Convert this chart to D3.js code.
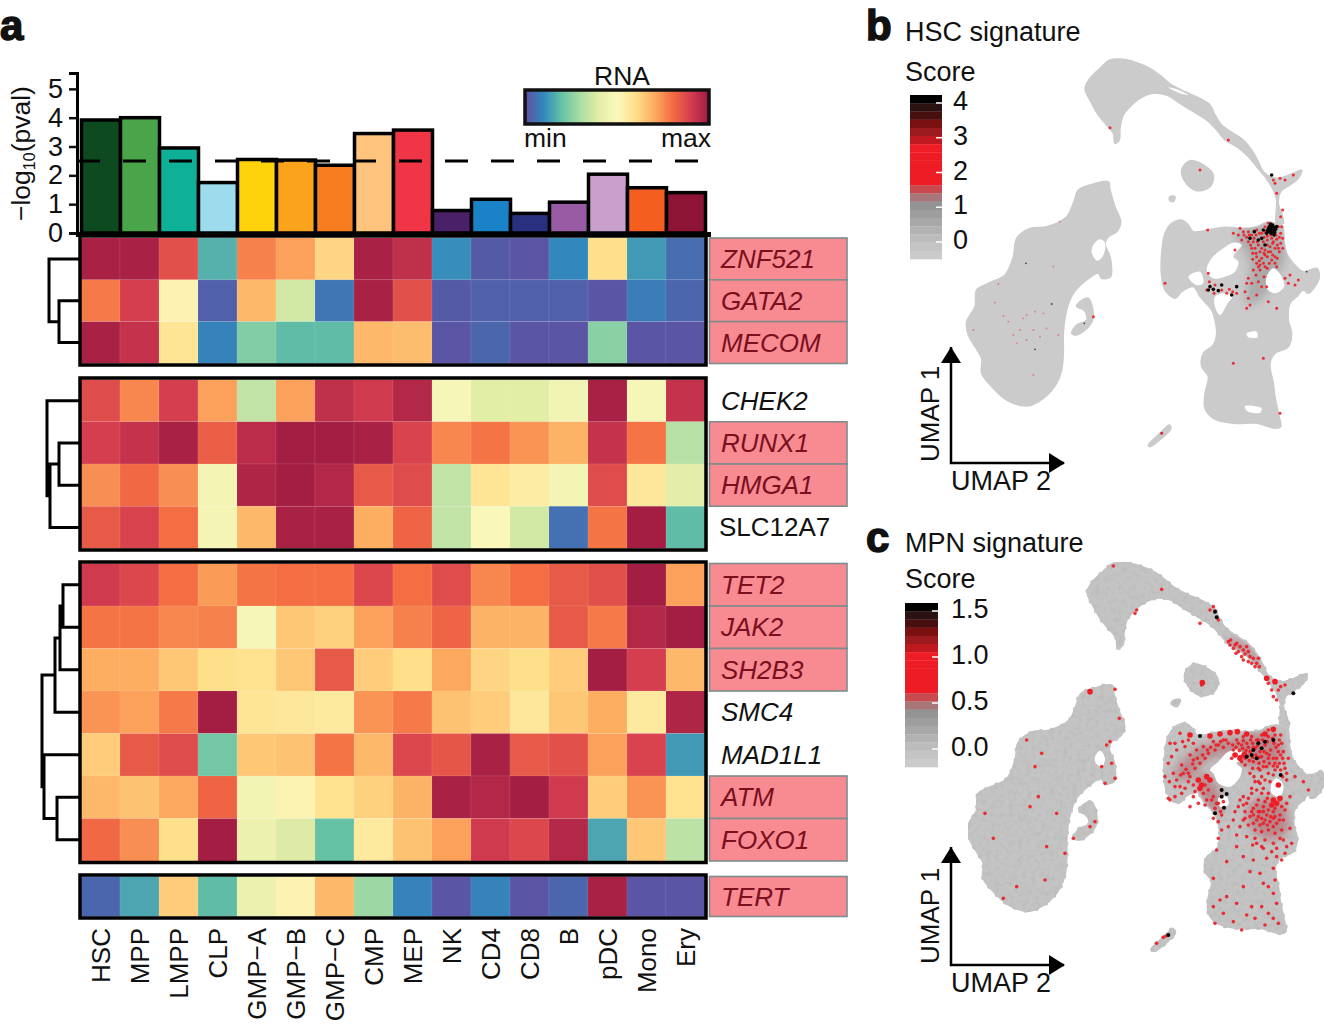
<!DOCTYPE html>
<html>
<head>
<meta charset="utf-8">
<script src="https://cdn.jsdelivr.net/npm/d3@7"></script>
<style>
  body { margin: 0; background: #fff; }
  text { font-family: "Liberation Sans", Arial, sans-serif; fill: #111; }
</style>
</head>
<body>
<svg id="fig" width="1324" height="1024"></svg>
<script>
// cell types, bar values and bar colours
const cellTypes = ['HSC', 'MPP', 'LMPP', 'CLP', 'GMP−A', 'GMP−B', 'GMP−C', 'CMP', 'MEP', 'NK', 'CD4', 'CD8', 'B', 'pDC', 'Mono', 'Ery']
const pvals = [3.92, 4.0, 2.95, 1.75, 2.55, 2.53, 2.35, 3.45, 3.57, 0.78, 1.17, 0.68, 1.07, 2.04, 1.57, 1.4]
const barColors = ['#0d4a20', '#4aa54a', '#0fb098', '#9cdcec', '#ffd30a', '#fca31c', '#f77c20', '#fec37c', '#f03546', '#4a2068', '#1a83c8', '#28307f', '#9a5ba5', '#c9a0cc', '#f45f20', '#8d1434']
const threshold = 2.5

// RNA colour stops, min to max
const rnaStops = ['#5e4fa2', '#3288bd', '#66c2a5', '#abdda4', '#e2eda6', '#fbf8bc', '#fee08b', '#fdae61', '#f46d43', '#d53e4f', '#9e1a42']

// RNA values, 0 = min, 1 = max
const groupA = ['ZNF521', 'GATA2', 'MECOM']
const groupB = ['CHEK2', 'RUNX1', 'HMGA1', 'SLC12A7']
const groupC = ['TET2', 'JAK2', 'SH2B3', 'SMC4', 'MAD1L1', 'ATM', 'FOXO1']
const groupD = ['TERT']
const ZNF521 = [.98, .98, .86, .17, .77, .72, .62, .98, .94, .11, .02, .01, .10, .60, .13, .05]
const GATA2 = [.78, .90, .52, .03, .68, .37, .07, .98, .86, .02, .03, .03, .03, .01, .08, .04]
const MECOM = [.98, .93, .58, .09, .24, .19, .19, .68, .67, .01, .04, .01, .01, .25, .01, .01]
const CHEK2 = [.87, .76, .90, .72, .34, .72, .94, .91, .96, .48, .40, .40, .46, .98, .48, .93]
const RUNX1 = [.90, .93, .98, .83, .95, .99, .99, .98, .89, .76, .79, .74, .69, .93, .79, .32]
const HMGA1 = [.75, .81, .75, .47, .97, .99, .96, .84, .87, .34, .58, .55, .47, .87, .57, .41]
const SLC12A7 = [.84, .89, .80, .47, .68, .98, .98, .70, .82, .34, .49, .37, .06, .79, .99, .19]
const TET2 = [.91, .88, .80, .73, .79, .80, .80, .88, .80, .87, .76, .80, .84, .86, .99, .72]
const JAK2 = [.79, .79, .76, .77, .48, .65, .63, .72, .77, .82, .69, .69, .84, .78, .96, .99]
const SH2B3 = [.70, .70, .65, .60, .59, .65, .84, .64, .60, .71, .62, .60, .64, .99, .90, .68]
const SMC4 = [.74, .72, .78, .99, .58, .57, .56, .74, .78, .66, .64, .57, .65, .70, .56, .97]
const MAD1L1 = [.64, .84, .87, .22, .65, .66, .79, .68, .88, .85, .98, .84, .86, .72, .89, .13]
const ATM = [.68, .66, .71, .82, .46, .52, .59, .63, .69, .98, .96, .99, .91, .64, .74, .59]
const FOXO1 = [.81, .75, .60, .99, .44, .39, .20, .56, .66, .72, .91, .88, .96, .15, .65, .33]
const TERT = [.04, .15, .64, .19, .44, .52, .68, .28, .09, .01, .09, .01, .04, .98, .01, .01]
const rna = { ZNF521, GATA2, MECOM, CHEK2, RUNX1, HMGA1, SLC12A7, TET2, JAK2, SH2B3, SMC4, MAD1L1, ATM, FOXO1, TERT }
const pinkGenes = ['ZNF521', 'GATA2', 'MECOM', 'RUNX1', 'HMGA1', 'TET2', 'JAK2', 'SH2B3', 'ATM', 'FOXO1', 'TERT']

// dendrograms: leaf or [left, right, merge height]
const treeA = ['ZNF521', ['GATA2', 'MECOM', 21], 31]
const treeB = ['CHEK2', [['RUNX1', 'HMGA1', 21], 'SLC12A7', 30], 33]
const treeC = [[[['TET2', 'JAK2', 17], 'SH2B3', 20], 'SMC4', 25], ['MAD1L1', ['ATM', 'FOXO1', 23], 36], 38]

// score legend steps, top to bottom
const scoreSteps = ['#000000', '#2a1212', '#470f0f', '#7a1111', '#9a1a1e', '#c0181f', '#ee1c25', '#ee1c25', '#ee1c25', '#ee1c25', '#ee1c25', '#c84a4e', '#a87678', '#939393', '#9e9e9e', '#a8a8a8', '#b2b2b2', '#bcbcbc', '#c4c4c4', '#cbcbcb']
const hscTicks = [0, 1, 2, 3, 4]
const mpnTicks = [0, 0.5, 1, 1.5]

// UMAP outlines in UMAP units
const umapOutlines = [
  [[675, 265], [690, 235], [720, 205], [750, 180], [790, 178], [830, 188], [870, 205], [905, 230], [935, 255], [975, 275], [1020, 295], [1050, 315], [1065, 345], [1085, 375], [1120, 400], [1150, 420], [1175, 450], [1195, 485], [1210, 515], [1250, 535], [1300, 520], [1325, 510], [1315, 535], [1290, 555], [1262, 575], [1255, 610], [1265, 640], [1270, 670], [1250, 672], [1250, 600], [1240, 570], [1215, 530], [1190, 500], [1165, 470], [1130, 440], [1095, 420], [1070, 390], [1040, 360], [1000, 335], [960, 310], [920, 285], [880, 280], [840, 295], [810, 320], [790, 345], [780, 385], [778, 420], [765, 430], [760, 400], [740, 375], [715, 345], [695, 310]],
  [[905, 760], [915, 700], [935, 670], [965, 660], [985, 675], [1000, 695], [1050, 688], [1100, 682], [1140, 685], [1190, 680], [1225, 665], [1250, 672], [1268, 680], [1272, 720], [1280, 760], [1300, 790], [1330, 815], [1370, 805], [1378, 830], [1365, 860], [1345, 880], [1330, 870], [1310, 890], [1290, 910], [1285, 960], [1295, 1000], [1285, 1040], [1245, 1060], [1230, 1090], [1240, 1150], [1245, 1190], [1255, 1240], [1262, 1280], [1245, 1285], [1190, 1270], [1120, 1270], [1060, 1255], [1035, 1225], [1035, 1180], [1045, 1130], [1025, 1100], [1030, 1060], [1060, 1035], [1070, 1000], [1065, 960], [1055, 930], [1020, 890], [1000, 860], [965, 875], [945, 895], [915, 870], [905, 830]],
  [[655, 570], [690, 555], [745, 545], [750, 570], [765, 620], [782, 665], [770, 695], [745, 710], [735, 730], [750, 770], [755, 810], [752, 830], [725, 835], [715, 820], [680, 840], [640, 880], [620, 930], [610, 1000], [610, 1060], [605, 1110], [590, 1150], [550, 1195], [500, 1218], [440, 1200], [395, 1160], [365, 1120], [365, 1075], [345, 1040], [325, 1005], [320, 965], [345, 920], [350, 870], [385, 850], [435, 825], [460, 770], [470, 715], [510, 685], [560, 680], [620, 650], [640, 610]],
  [[635, 1000], [650, 975], [680, 960], [672, 930], [650, 920], [660, 905], [685, 895], [700, 950], [690, 975], [650, 1005]],
  [[965, 510], [990, 482], [1030, 495], [1060, 525], [1050, 560], [1010, 572], [975, 545]],
  [[930, 590], [945, 590], [940, 605], [928, 600]],
  [[865, 1335], [900, 1300], [928, 1275], [933, 1285], [905, 1315], [870, 1340]]
]
const hscHoles = [
  [[1040, 810], [1055, 775], [1090, 745], [1120, 728], [1145, 735], [1120, 770], [1135, 785], [1125, 815], [1095, 830], [1060, 835]],
  [[1065, 890], [1090, 880], [1118, 885], [1100, 915], [1080, 945], [1065, 920]],
  [[1220, 830], [1240, 805], [1262, 825], [1272, 860], [1245, 880], [1222, 868]],
  [[985, 830], [1020, 815], [1030, 850], [1010, 855]],
  [[700, 735], [720, 718], [735, 728], [730, 765], [712, 782], [695, 758]],
  [[1160, 1000], [1190, 995], [1192, 1012], [1165, 1012]],
  [[1155, 1218], [1205, 1225], [1200, 1238], [1160, 1232]],
  [[925, 262], [950, 268], [985, 285], [960, 280]]
]
const mpnHoles = [
  [[1075, 755], [1105, 725], [1140, 720], [1150, 745], [1130, 760], [1145, 775], [1140, 800], [1110, 830], [1075, 820], [1060, 790], [1050, 780]],
  [[1235, 820], [1250, 805], [1270, 825], [1260, 860], [1235, 850]],
  [[1075, 865], [1100, 860], [1105, 885], [1080, 890]],
  [[705, 740], [720, 722], [735, 745], [725, 770], [708, 760]]
]
const hscHaze = [[[1130, 700], [1250, 690], [1275, 760], [1250, 830], [1200, 900], [1160, 910], [1170, 790]]]
const mpnHaze = [
  [[1120, 700], [1240, 670], [1270, 730], [1240, 770], [1150, 760]],
  [[940, 800], [990, 730], [1060, 695], [1130, 690], [1120, 725], [1050, 745], [980, 810]],
  [[1170, 880], [1260, 870], [1285, 960], [1230, 990], [1170, 950]],
  [[1100, 385], [1160, 410], [1200, 465], [1150, 445]],
  [[1010, 800], [1050, 800], [1090, 900], [1060, 910]]
]

// cells with a high score
const hscBlack = [[1232, 672], [1238, 675], [1228, 680], [1235, 682], [1242, 682], [1225, 686], [1232, 688], [1240, 690], [1247, 688], [1236, 695], [1244, 697], [1228, 695], [1250, 680], [1234, 700], [1242, 705], [1222, 692], [1235, 525], [1183, 695], [1170, 715], [1195, 720], [1205, 715], [1215, 735], [1050, 860], [1060, 868], [1085, 855], [1130, 860], [1045, 870], [1075, 872], [1115, 885], [1220, 700], [1210, 690]]
const hscDark = [[525, 1048], [575, 912], [673, 970], [905, 1298], [1340, 815], [498, 790], [1250, 925]]
const hscRed = [[750, 383], [1240, 540], [1260, 535], [1245, 550], [1275, 540], [1300, 525], [1250, 580], [1268, 630], [1262, 650], [1265, 680], [1043, 690], [1140, 685], [1150, 695], [1165, 695], [1175, 705], [1190, 690], [1205, 700], [1215, 680], [1225, 670], [1255, 680], [1262, 700], [1268, 715], [1160, 712], [1180, 725], [1195, 735], [1210, 725], [1222, 720], [1235, 715], [1250, 718], [1262, 730], [1145, 720], [1125, 750], [1185, 745], [1200, 755], [1215, 750], [1230, 740], [1245, 745], [1258, 755], [1190, 770], [1205, 775], [1222, 770], [1238, 765], [1252, 775], [1190, 790], [1210, 790], [1228, 790], [1245, 790], [1180, 810], [1200, 810], [1222, 805], [1165, 835], [1160, 850], [1205, 860], [1220, 860], [1290, 825], [1305, 855], [1285, 850], [1045, 820], [1048, 845], [1065, 855], [1085, 870], [1100, 880], [1118, 875], [1062, 880], [1165, 895], [1170, 915], [1250, 925], [1260, 1240], [905, 1300], [700, 950], [1020, 510], [1120, 1090], [1210, 1075], [915, 850], [1105, 420], [1172, 735], [1188, 705], [1212, 712], [1238, 730], [1252, 735], [1198, 782], [1215, 765], [1232, 755], [1178, 760], [1195, 800], [1152, 705], [1168, 705], [1182, 715], [1198, 700], [1215, 695], [1222, 708], [1232, 705], [1248, 705], [1258, 712], [1165, 725], [1175, 745], [1192, 725], [1205, 745], [1222, 735], [1240, 725], [1255, 745], [1268, 745], [1178, 778], [1188, 760], [1212, 760], [1225, 755], [1245, 770], [1200, 795], [1215, 800], [1235, 780], [1188, 825], [1175, 850], [1212, 830], [1195, 845], [1155, 875], [1190, 885], [1275, 835], [1315, 840], [1250, 800], [1160, 925], [1225, 905], [1040, 870], [1108, 868], [1130, 880], [1120, 700], [1135, 705]]
const hscFaint = [[430, 948], [490, 955], [525, 935], [550, 940], [480, 990], [520, 990], [560, 985], [470, 1030], [500, 1020], [540, 1010], [595, 1005], [405, 908], [340, 990], [520, 1125], [460, 1005], [600, 665], [415, 852], [580, 800], [500, 945], [445, 965]]
const mpnBlack = [[1020, 678], [1195, 700], [1180, 720], [1160, 740], [1205, 715], [1240, 690], [1085, 840], [1100, 852], [1085, 860], [1092, 893], [1065, 910], [1262, 795], [1300, 550], [1065, 305], [1070, 322], [925, 1275], [1175, 735], [1190, 745], [1215, 695]]
const mpnRim = [[990, 675], [1050, 678], [1080, 672], [1110, 668], [1132, 665], [1160, 672], [1015, 810], [1025, 825], [1040, 800], [1020, 835], [1050, 810], [1240, 658], [1215, 672], [690, 545], [1250, 880], [1235, 885], [1255, 825], [1240, 870], [1260, 865], [1245, 515], [1220, 505], [1027, 518], [1125, 735], [1140, 745], [1152, 735]]
const mpnRed = [[1135, 700], [1148, 715], [1160, 700], [1170, 725], [1178, 700], [1188, 735], [1195, 690], [1205, 740], [1215, 705], [1225, 680], [1232, 720], [1242, 700], [1250, 745], [1258, 690], [1140, 740], [1155, 745], [1168, 752], [1180, 755], [1197, 760], [1212, 755], [1225, 745], [1240, 768], [1252, 770], [1262, 735], [1272, 760], [1285, 745], [1280, 790], [1130, 690], [1120, 720], [1105, 700], [1090, 690], [1075, 705], [1065, 720], [1045, 730], [1035, 745], [1020, 760], [1005, 775], [985, 790], [1060, 695], [1090, 712], [1115, 745], [1150, 680], [1175, 680], [1205, 675], [1225, 660], [1245, 675], [1145, 705], [1165, 712], [1185, 715], [1155, 730], [1200, 725], [1220, 730], [1190, 690], [1262, 675], [1255, 705], [1270, 725], [950, 810], [970, 790], [1000, 750], [1030, 710], [1010, 720], [990, 735], [965, 765], [940, 790], [960, 830], [985, 815], [1030, 850], [1045, 840], [1060, 860], [1075, 880], [1065, 895], [1055, 870], [1040, 870], [1085, 915], [1075, 935], [1090, 875], [930, 700], [960, 670], [985, 690], [1000, 700], [950, 720], [925, 760], [935, 740], [975, 710], [930, 870], [925, 865], [945, 860], [975, 835], [1000, 860], [990, 890], [1170, 790], [1185, 815], [1205, 800], [1225, 790], [1245, 780], [1190, 840], [1210, 835], [1230, 815], [1280, 810], [1305, 800], [1330, 815], [1345, 840], [1195, 870], [1215, 875], [1265, 890], [1180, 895], [1200, 905], [1220, 915], [1240, 905], [1260, 915], [1280, 880], [1290, 860], [1170, 920], [1190, 930], [1210, 940], [1230, 935], [1250, 940], [1270, 930], [1150, 860], [1135, 890], [1155, 905], [1165, 945], [1185, 960], [1205, 965], [1225, 960], [1245, 970], [1265, 960], [1290, 955], [1295, 1000], [1270, 990], [1240, 1000], [1215, 990], [1190, 1000], [1160, 980], [1140, 950], [1120, 930], [1075, 985], [1070, 1020], [1150, 1040], [1180, 1050], [1220, 1045], [1250, 1040], [1275, 1030], [1240, 1075], [1245, 1110], [1240, 1150], [1225, 1130], [1200, 1090], [1060, 1105], [1080, 1170], [1100, 1160], [1130, 1180], [1160, 1215], [1185, 1225], [1205, 1190], [1225, 1210], [1250, 1180], [1255, 1240], [1065, 1240], [1145, 1260], [1105, 395], [1130, 400], [1150, 420], [1170, 440], [1190, 460], [1120, 415], [1145, 440], [1175, 460], [1195, 445], [1160, 410], [1135, 425], [1235, 540], [1255, 540], [1275, 525], [1250, 570], [1065, 303], [1060, 290], [830, 300], [825, 310], [760, 168], [905, 238], [765, 538], [778, 625], [750, 695], [740, 705], [755, 760], [765, 805], [735, 820], [725, 770], [545, 730], [525, 770], [500, 690], [510, 890], [535, 860], [375, 910], [400, 985], [560, 1010], [555, 1110], [470, 1130], [430, 1165], [590, 910], [615, 1030], [640, 985], [705, 935], [690, 950], [1025, 525], [890, 1300], [910, 1282], [918, 1278], [1195, 905], [1210, 890], [1225, 900], [1245, 920], [1205, 925], [1180, 915], [1225, 850], [1200, 820], [1175, 835], [1160, 880], [1200, 780], [1220, 770], [1178, 775], [1262, 780], [1150, 930], [1240, 950], [1260, 985], [1185, 985], [1210, 1015], [1235, 1025], [1130, 975], [1128, 712], [1138, 722], [1150, 692], [1158, 722], [1172, 690], [1180, 712], [1192, 708], [1198, 742], [1208, 690], [1212, 725], [1222, 695], [1228, 735], [1238, 685], [1240, 745], [1248, 712], [1255, 725], [1265, 700], [1268, 745], [1145, 755], [1162, 738], [1178, 742], [1195, 775], [1210, 770], [1228, 760], [1245, 760], [1258, 760], [1275, 775], [1155, 765], [1128, 735], [1118, 705], [1098, 690], [1082, 695], [1068, 705], [1052, 712], [1042, 720], [1028, 735], [1012, 745], [998, 762], [978, 778], [962, 795], [1182, 800], [1195, 815], [1215, 810], [1240, 795], [1268, 800], [1175, 850], [1205, 850], [1222, 865], [1245, 895], [1275, 900], [1190, 885], [1210, 905], [1232, 920], [1258, 930], [1175, 905], [1195, 920], [1215, 930], [1240, 925], [1200, 945], [1222, 945], [1180, 940], [1155, 925], [1150, 885], [1165, 865], [1140, 870], [1125, 905], [1105, 950], [1085, 960], [1178, 1005], [1205, 1010], [1250, 1015], [1280, 1010], [1265, 1050], [1130, 1010], [1100, 1055], [1170, 1085], [1210, 1120], [1150, 1130], [1090, 1210], [1120, 1235], [1175, 1190], [1240, 1225], [1215, 1245], [1060, 1190], [1112, 390], [1125, 405], [1140, 410], [1155, 432], [1165, 425], [1180, 445], [1198, 470], [1110, 405], [1128, 430], [1150, 450], [1165, 455], [1185, 470], [1225, 520], [1262, 530], [1240, 560], [1050, 300], [1020, 340], [1075, 330], [945, 700], [968, 695], [915, 800], [928, 815], [945, 830], [965, 850], [1000, 825], [990, 800], [1005, 845], [1015, 880], [1035, 825], [1035, 885], [1060, 925], [1070, 880], [1082, 905]]

const svg = d3.select('#fig')
const defs = svg.append('defs')

const spectral = d3.scaleLinear()
  .domain(d3.range(rnaStops.length).map(i => i / (rnaStops.length - 1)))
  .range(rnaStops)
const x = d3.scaleBand().domain(cellTypes).range([81, 705])

// panel letters
const panelLetter = (label, px, py) => svg.append('text')
  .attr('x', px).attr('y', py)
  .attr('font-size', 42).attr('font-weight', 700)
  .attr('stroke', '#111').attr('stroke-width', 1.5)
  .text(label)
panelLetter('a', 0, 40)
panelLetter('b', 866, 40)
panelLetter('c', 866, 552)

// top bars
const y = d3.scaleLinear().domain([0, 5.55]).range([233, 73])
svg.append('g').selectAll('rect')
  .data(pvals)
  .join('rect')
  .attr('x', (d, i) => x(cellTypes[i]) + 0.5)
  .attr('y', d => y(d))
  .attr('width', x.bandwidth())
  .attr('height', d => y(0) - y(d))
  .attr('fill', (d, i) => barColors[i])
  .attr('stroke', '#000')
  .attr('stroke-width', 3.5)

svg.append('line')
  .attr('x1', 77).attr('x2', 705)
  .attr('y1', y(threshold)).attr('y2', y(threshold))
  .attr('stroke', '#000').attr('stroke-width', 3)
  .attr('stroke-dasharray', '23 23')

const yAxis = svg.append('g')
  .attr('transform', 'translate(77,0)')
  .call(d3.axisLeft(y).tickValues([0, 1, 2, 3, 4, 5]).tickSize(8).tickPadding(6).tickFormat(d3.format('d')))
yAxis.selectAll('text').attr('font-size', 27).style('font-family', '"Liberation Sans"').attr('fill', '#111')
yAxis.selectAll('line').attr('stroke', '#111').attr('stroke-width', 2.5)
yAxis.select('.domain').attr('stroke', '#000').attr('stroke-width', 3)

svg.append('line')
  .attr('x1', 76).attr('x2', 711).attr('y1', 234.5).attr('y2', 234.5)
  .attr('stroke', '#000').attr('stroke-width', 5)

const yLabel = svg.append('text')
  .attr('transform', 'translate(30,221) rotate(-90)')
  .attr('font-size', 26.5)
yLabel.append('tspan').text('−log')
yLabel.append('tspan').attr('font-size', 16).attr('dy', 5).text('10')
yLabel.append('tspan').attr('dy', -5).text('(pval)')

// RNA legend
const rnaGradient = defs.append('linearGradient').attr('id', 'rnaGradient')
rnaGradient.selectAll('stop')
  .data(rnaStops)
  .join('stop')
  .attr('offset', (d, i) => i / (rnaStops.length - 1))
  .attr('stop-color', d => d)
svg.append('rect')
  .attr('x', 525).attr('y', 90).attr('width', 184).attr('height', 34)
  .attr('fill', 'url(#rnaGradient)')
  .attr('stroke', '#111').attr('stroke-width', 3.5)
svg.append('text').attr('x', 622).attr('y', 85).attr('text-anchor', 'middle').attr('font-size', 26.5).text('RNA')
svg.append('text').attr('x', 524).attr('y', 147).attr('font-size', 26.5).text('min')
svg.append('text').attr('x', 711).attr('y', 147).attr('text-anchor', 'end').attr('font-size', 26.5).text('max')

// heat map groups
const rowY = {}
const drawGroup = (genes, top, bottom, frameTop, tree) => {
  const band = d3.scaleBand().domain(genes).range([top, bottom])
  genes.forEach(gene => {
    rowY[gene] = band(gene) + band.bandwidth() / 2
  })

  const g = svg.append('g')
  g.selectAll('g')
    .data(genes)
    .join('g')
    .selectAll('rect')
    .data(gene => rna[gene].map((v, i) => ({ gene, v, type: cellTypes[i] })))
    .join('rect')
    .attr('x', d => x(d.type))
    .attr('y', d => band(d.gene))
    .attr('width', x.bandwidth())
    .attr('height', band.bandwidth())
    .attr('fill', d => spectral(d.v))
    .attr('stroke', 'rgba(255,255,255,0.12)')
    .attr('stroke-width', 0.7)

  svg.append('rect')
    .attr('x', 80).attr('y', frameTop)
    .attr('width', 626).attr('height', bottom + 1.5 - frameTop)
    .attr('fill', 'none')
    .attr('stroke', '#000').attr('stroke-width', 3.5)

  // gene labels
  genes.forEach(gene => {
    const pink = pinkGenes.includes(gene)
    if (pink) {
      svg.append('rect')
        .attr('x', 709.5).attr('y', band(gene))
        .attr('width', 137.5).attr('height', band.bandwidth())
        .attr('fill', '#f88b92')
        .attr('stroke', '#7f8c8c').attr('stroke-width', 1.6)
    }
  })
  genes.forEach(gene => {
    const pink = pinkGenes.includes(gene)
    svg.append('text')
      .attr('x', gene === 'SLC12A7' ? 719 : 721)
      .attr('y', rowY[gene] + 9)
      .attr('font-size', 26)
      .attr('font-style', gene === 'SLC12A7' ? 'normal' : 'italic')
      .style('fill', pink ? '#7a0f1e' : '#111')
      .text(gene)
  })

  if (tree) drawTree(tree)
}

// dendrogram, merge heights run leftward from the heat map
const treeX = d3.scaleLinear().domain([0, 38]).range([80, 42])
const drawTree = tree => {
  const path = d3.path()
  const walk = node => {
    if (typeof node === 'string') return { y: rowY[node], h: 0 }
    const a = walk(node[0])
    const b = walk(node[1])
    path.moveTo(treeX(a.h), a.y)
    path.lineTo(treeX(node[2]), a.y)
    path.lineTo(treeX(node[2]), b.y)
    path.lineTo(treeX(b.h), b.y)
    return { y: (a.y + b.y) / 2, h: node[2] }
  }
  walk(tree)
  svg.append('path')
    .attr('d', path.toString())
    .attr('fill', 'none')
    .attr('stroke', '#000')
    .attr('stroke-width', 3)
}

drawGroup(groupA, 238, 363.5, 236, treeA)
drawGroup(groupB, 379.5, 548.5, 378, treeB)
drawGroup(groupC, 563.5, 861, 562, treeC)
drawGroup(groupD, 876.5, 916.5, 875, null)

// column labels
svg.append('g').selectAll('text')
  .data(cellTypes)
  .join('text')
  .attr('transform', d => `translate(${x(d) + x.bandwidth() / 2 + 9},928) rotate(-90)`)
  .attr('text-anchor', 'end')
  .attr('font-size', 26)
  .text(d => d)

// noise on the grey of panel c
const mottle = defs.append('filter').attr('id', 'mottle').attr('x', 0).attr('y', 0).attr('width', 1).attr('height', 1)
mottle.append('feTurbulence').attr('type', 'fractalNoise').attr('baseFrequency', 0.22).attr('numOctaves', 2).attr('seed', 4).attr('result', 'n')
mottle.append('feColorMatrix').attr('in', 'n').attr('type', 'matrix')
  .attr('values', '0 0 0 0 0.45  0 0 0 0 0.45  0 0 0 0 0.45  0 0 0 1.2 -0.5').attr('result', 'm')
mottle.append('feComposite').attr('in', 'm').attr('in2', 'SourceAlpha').attr('operator', 'in').attr('result', 'c')
const merge = mottle.append('feMerge')
merge.append('feMergeNode').attr('in', 'SourceGraphic')
merge.append('feMergeNode').attr('in', 'c')
defs.append('filter').attr('id', 'soft').append('feGaussianBlur').attr('stdDeviation', 5)

const closed = (sx, sy) => d3.line().x(d => sx(d[0])).y(d => sy(d[1])).curve(d3.curveCatmullRomClosed.alpha(0.5))

const drawUmap = o => {
  const outline = closed(o.shapeX, o.shapeY)
  const detail = closed(o.pointX, o.pointY)
  const shapes = svg.append('g').attr('filter', o.mottled ? 'url(#mottle)' : null)
  shapes.selectAll('path.solid')
    .data(umapOutlines)
    .join('path')
    .attr('class', 'solid')
    .attr('d', outline)
    .attr('fill', o.grey)
    .attr('stroke', o.grey)
    .attr('stroke-width', o.edge)
    .attr('stroke-linejoin', 'round')
  if (o.mottled) {
    shapes.selectAll('path.bump')
      .data(umapOutlines)
      .join('path')
      .attr('class', 'bump')
      .attr('d', outline)
      .attr('fill', 'none')
      .attr('stroke', o.grey)
      .attr('stroke-width', 5)
      .attr('stroke-linecap', 'round')
      .attr('stroke-dasharray', '0 11')
  }

  defs.append('clipPath').attr('id', o.clip)
    .selectAll('path')
    .data(umapOutlines)
    .join('path')
    .attr('d', outline)
  svg.append('g').attr('clip-path', `url(#${o.clip})`)
    .append('g').attr('filter', 'url(#soft)').attr('opacity', o.hazeOpacity)
    .selectAll('path')
    .data(o.haze)
    .join('path')
    .attr('d', detail)
    .attr('fill', o.hazeColor)

  svg.append('g').selectAll('path')
    .data(o.holes)
    .join('path')
    .attr('d', detail)
    .attr('fill', '#fff')

  const dots = (data, r, fill, opacity) => svg.append('g').selectAll('circle')
    .data(data)
    .join('circle')
    .attr('cx', d => o.pointX(d[0]))
    .attr('cy', d => o.pointY(d[1]))
    .attr('r', r)
    .attr('fill', fill)
    .attr('opacity', opacity)
  if (o.faint) dots(o.faint, 0.9, '#e56a6a', 0.8)
  if (o.dark) dots(o.dark, 0.9, '#333', 0.9)
  dots(o.red, o.redR, '#ee1c25', 0.9)
  if (o.rim) dots(o.rim, 2.8, '#ee1c25', 1)
  dots(o.black, o.blackR, '#0a0505', 1)
}

drawUmap({
  clip: 'hscClip',
  shapeX: d3.scaleLinear().domain([0, 1392]).range([860, 1324]),
  shapeY: d3.scaleLinear().domain([0, 1500]).range([0, 500]),
  pointX: d3.scaleLinear().domain([0, 1392]).range([860, 1324]),
  pointY: d3.scaleLinear().domain([0, 1500]).range([0, 500]),
  grey: '#cbcbcb', edge: 1.5, mottled: false,
  haze: hscHaze, hazeColor: '#8a8a8a', hazeOpacity: 0.5,
  holes: hscHoles, red: hscRed, black: hscBlack, dark: hscDark, faint: hscFaint, redR: 1.5, blackR: 1.8
})
drawUmap({
  clip: 'mpnClip',
  shapeX: d3.scaleLinear().domain([0, 1392]).range([861, 1329]),
  shapeY: d3.scaleLinear().domain([0, 1500]).range([504, 1004.5]),
  pointX: d3.scaleLinear().domain([0, 1392]).range([860, 1324]),
  pointY: d3.scaleLinear().domain([0, 1500]).range([510, 1010]),
  grey: '#c4c4c4', edge: 3, mottled: true,
  haze: mpnHaze, hazeColor: '#a8434b', hazeOpacity: 0.45,
  holes: mpnHoles, red: mpnRed, rim: mpnRim, black: mpnBlack, redR: 1.8, blackR: 2
})

// score legends
const drawScore = (o) => {
  const band = d3.scaleBand().domain(d3.range(scoreSteps.length)).range([o.top, o.bottom])
  svg.append('g').selectAll('rect')
    .data(scoreSteps)
    .join('rect')
    .attr('x', o.x).attr('y', (d, i) => band(i))
    .attr('width', o.width).attr('height', band.bandwidth() + 0.3)
    .attr('fill', d => d)

  const s = d3.scaleLinear().domain(o.domain).range(o.range)
  const g = svg.append('g')
  g.selectAll('line')
    .data(o.ticks)
    .join('line')
    .attr('x1', o.x + o.width - 6).attr('x2', o.x + o.width)
    .attr('y1', d => s(d)).attr('y2', d => s(d))
    .attr('stroke', '#fff').attr('stroke-width', 1.5)
  g.selectAll('text')
    .data(o.ticks)
    .join('text')
    .attr('x', o.labelX).attr('y', d => s(d) + 7)
    .attr('font-size', 27)
    .text(o.format)
}
drawScore({ x: 910, width: 32, top: 95, bottom: 259, domain: [0, 4], range: [242, 103], ticks: hscTicks, labelX: 953, format: d3.format('d') })
drawScore({ x: 905, width: 33, top: 603, bottom: 767, domain: [0, 1.5], range: [749, 611], ticks: mpnTicks, labelX: 951, format: d3.format('.1f') })

// panel titles
const label = (t, px, py) => svg.append('text').attr('x', px).attr('y', py).attr('font-size', 27).text(t)
label('HSC signature', 905, 41)
label('Score', 905, 81)
label('MPN signature', 905, 552)
label('Score', 905, 588)

// UMAP arrows
const drawArrows = (corner, top) => {
  svg.append('path')
    .attr('d', d3.line()([[951, top], [951, corner], [1064, corner]]))
    .attr('fill', 'none').attr('stroke', '#000').attr('stroke-width', 2.5)
  svg.append('path')
    .attr('d', `M951,${top}L941,${top + 16}L961,${top + 16}Z`).attr('fill', '#000')
  svg.append('path')
    .attr('d', `M1065,${corner}L1049,${corner - 10}L1049,${corner + 10}Z`).attr('fill', '#000')
  svg.append('text')
    .attr('transform', `translate(939,${corner - 1}) rotate(-90)`)
    .attr('font-size', 26).text('UMAP 1')
  svg.append('text')
    .attr('x', 951).attr('y', corner + 27)
    .attr('font-size', 27).text('UMAP 2')
}
drawArrows(463, 347)
drawArrows(965, 847)
</script>
</body>
</html>
